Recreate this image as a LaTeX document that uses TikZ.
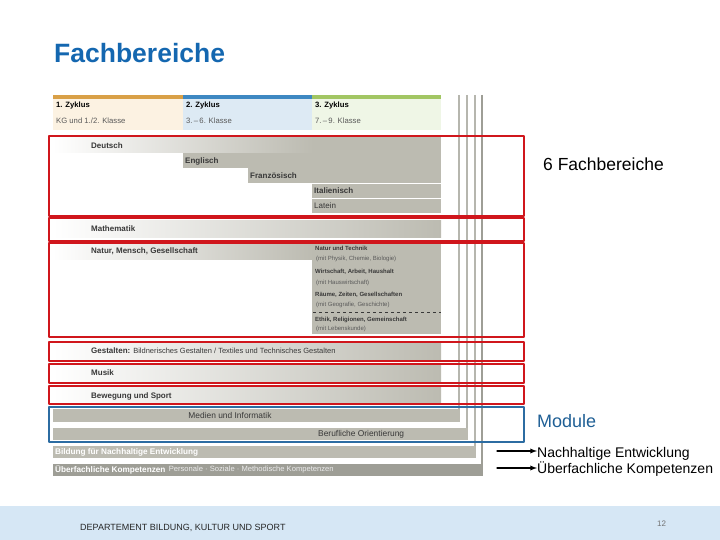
\documentclass[tikz,border=0pt]{standalone}
\usepackage{fontspec}
\setmainfont{Liberation Sans}
\usetikzlibrary{positioning}
\definecolor{titleblue}{HTML}{1467B0}
\definecolor{modblue}{HTML}{1F5F95}
\definecolor{boxred}{HTML}{D0161C}
\definecolor{boxblue}{HTML}{2C6CA2}
\definecolor{bargrey}{HTML}{BCBBB1}
\definecolor{darkgrey}{HTML}{9E9E96}
\definecolor{linegrey}{HTML}{B6B6AE}
\definecolor{zorange}{HTML}{D9A047}
\definecolor{zorangel}{HTML}{FCF2E2}
\definecolor{zblue}{HTML}{3E88C2}
\definecolor{zbluel}{HTML}{DDEAF4}
\definecolor{zgreen}{HTML}{A2C663}
\definecolor{zgreenl}{HTML}{EFF6E6}
\definecolor{footblue}{HTML}{D6E7F5}
\definecolor{labeltext}{HTML}{383838}
\definecolor{subtext}{HTML}{5A5A5A}

\begin{document}
\begin{tikzpicture}[x=1pt,y=-1pt,line cap=round,line join=round,
    barlabel/.style={anchor=west,inner sep=0pt,text=labeltext,
        font=\fontsize{8}{9}\selectfont\bfseries},
    fadebar/.style={left color=white,middle color=bargrey,right color=bargrey},
    smalllabel/.style={anchor=west,inner sep=0pt,text=labeltext,
        font=\fontsize{6}{7}\selectfont\bfseries},
    smallnote/.style={anchor=west,inner sep=0pt,text=subtext,
        font=\fontsize{6}{7}\selectfont},
    modlabel/.style={inner sep=0pt,text=labeltext,
        font=\fontsize{8.4}{9}\selectfont},
    redbox/.style={draw=boxred,line width=2.2pt},
    sidelabel/.style={anchor=base west,inner sep=0pt,
        font=\fontsize{14}{16}\selectfont}]
\useasboundingbox (0,0) rectangle (720,540);

% footer
\fill[footblue] (0,506) rectangle (720,540);
\node[anchor=base west,inner sep=0pt,font=\fontsize{9}{10}\selectfont,
    text=black!85] (dept) at (80,530) {DEPARTEMENT BILDUNG, KULTUR UND SPORT};
\node[anchor=base west,inner sep=0pt,font=\fontsize{8}{9}\selectfont,
    text=black!55] (page) at (657,526) {12};

% title
\node[anchor=base west,inner sep=0pt,font=\fontsize{26.5}{30}\selectfont\bfseries,
    text=titleblue] (title) at (54,63) {Fachbereiche};

% zyklus header
\fill[zorange] (53,95) rectangle (183,99);
\fill[zblue] (183,95) rectangle (312,99);
\fill[zgreen] (312,95) rectangle (441,99);
\fill[zorangel] (53,99) rectangle (183,130);
\fill[zbluel] (183,99) rectangle (312,130);
\fill[zgreenl] (312,99) rectangle (441,130);
\foreach \x/\n/\k in {
    56/1/{KG und 1./2. Klasse},
    186/2/{3.\,--\,6. Klasse},
    315/3/{7.\,--\,9. Klasse}
}
{
    \node[anchor=west,inner sep=0pt,text=black,
        font=\fontsize{7.7}{9}\selectfont\bfseries] (zyk\n) at (\x,106) {\n. Zyklus};
    \node[anchor=west,inner sep=0pt,text=subtext,
        font=\fontsize{7.7}{9}\selectfont] (kl\n) at (\x,121) {\k};
}

% vertical lines of the modules
\foreach \x/\y in {
    459/422,
    467/440,
    475/458
}
{
    \draw[linegrey,line width=1.6pt,line cap=butt] (\x,95)--(\x,\y);
}
\draw[darkgrey,line width=1.6pt,line cap=butt] (482.2,95)--(482.2,476);

% language bars
\fill[bargrey] (183,150) rectangle (441,168);
\fill[bargrey] (248,168) rectangle (441,183);
\fill[bargrey] (312,184) rectangle (441,198);
\fill[bargrey] (312,199) rectangle (441,213);
\fill[bargrey] (312,137) rectangle (441,153);
\shade[fadebar] (53,137) rectangle (313,153);
\node[barlabel] (deutsch) at (91,146) {Deutsch};
\node[barlabel] (englisch) at (185,161) {Englisch};
\node[barlabel] (franz) at (250,176) {Französisch};
\node[barlabel] (ital) at (314,191) {Italienisch};
\node[barlabel,font=\fontsize{8}{9}\selectfont] (latein) at (314,206) {Latein};

% mathematik
\shade[fadebar] (53,221) rectangle (441,237);
\node[barlabel] (mathe) at (91,229) {Mathematik};

% natur, mensch, gesellschaft
\fill[bargrey] (312,243) rectangle (441,334);
\shade[fadebar] (53,244) rectangle (313,259);
\node[barlabel] (nmg) at (91,251) {Natur, Mensch, Gesellschaft};
\node[smalllabel] (nt) at (315,248) {Natur und Technik};
\node[smallnote] (ntm) at (316,259) {(mit Physik, Chemie, Biologie)};
\node[smalllabel] (wah) at (315,272) {Wirtschaft, Arbeit, Haushalt};
\node[smallnote] (wahm) at (316,283) {(mit Hauswirtschaft)};
\node[smalllabel] (rzg) at (315,295) {Räume, Zeiten, Gesellschaften};
\node[smallnote] (rzgm) at (316,305) {(mit Geografie, Geschichte)};
\draw[labeltext,dashed,line width=0.6pt,line cap=butt] (313,312)--(441,312);
\node[smalllabel] (erg) at (315,320) {Ethik, Religionen, Gemeinschaft};
\node[smallnote] (ergm) at (316,329) {(mit Lebenskunde)};

% gestalten, musik, sport
\foreach \a/\b in {
    343/359,
    365/381,
    387/403
}
{
    \shade[fadebar] (53,\a) rectangle (441,\b);
}
\node[barlabel] (gest) at (91,351) {Gestalten:
    {\fontsize{7.5}{8}\selectfont\mdseries Bildnerisches Gestalten / Textiles und Technisches Gestalten}};
\node[barlabel] (musik) at (91,373) {Musik};
\node[barlabel] (sport) at (91,396) {Bewegung und Sport};

% module
\fill[bargrey] (53,409) rectangle (460,422);
\fill[bargrey] (53,428) rectangle (468,440);
\fill[bargrey] (53,446) rectangle (476,458);
\fill[darkgrey] (53,464) rectangle (483,476);
\node[modlabel] (medien) at (230,415.5) {Medien und Informatik};
\node[modlabel,anchor=west] (beruf) at (318,434.5) {Berufliche Orientierung};
\node[barlabel,text=white,font=\fontsize{8.2}{9}\selectfont\bfseries] (bne) at (55,452)
    {Bildung für Nachhaltige Entwicklung};
\node[barlabel,text=white,font=\fontsize{8.2}{9}\selectfont\bfseries] (ufk) at (55,470)
    {Überfachliche Kompetenzen};
\node[barlabel,text=white!92!black,font=\fontsize{7.6}{9}\selectfont,right=3pt of ufk] (ufkp)
    {Personale · Soziale · Methodische Kompetenzen};

% frames
\foreach \a/\b in {
    136/216,
    218/241,
    243/337,
    342/361,
    364/383,
    386/404
}
{
    \draw[redbox] (49,\a) rectangle (524,\b);
}
\draw[boxblue,line width=2pt] (49,407) rectangle (524,442);

% labels on the right
\node[sidelabel,font=\fontsize{17.5}{19}\selectfont] (fb) at (543,171) {6 Fachbereiche};
\node[sidelabel,font=\fontsize{18}{20}\selectfont,text=modblue] (modul) at (537,427) {Module};
\node[sidelabel] (nachh) at (537,457) {Nachhaltige Entwicklung};
\node[sidelabel] (ueber) at (537,473.5) {Überfachliche Kompetenzen};
\coordinate (a1) at (497,451);
\coordinate (a2) at (497,468);
\draw[-latex,line width=1.3pt] (a1)--(a1-|nachh.west);
\draw[-latex,line width=1.3pt] (a2)--(a2-|ueber.west);
\end{tikzpicture}
\end{document}
